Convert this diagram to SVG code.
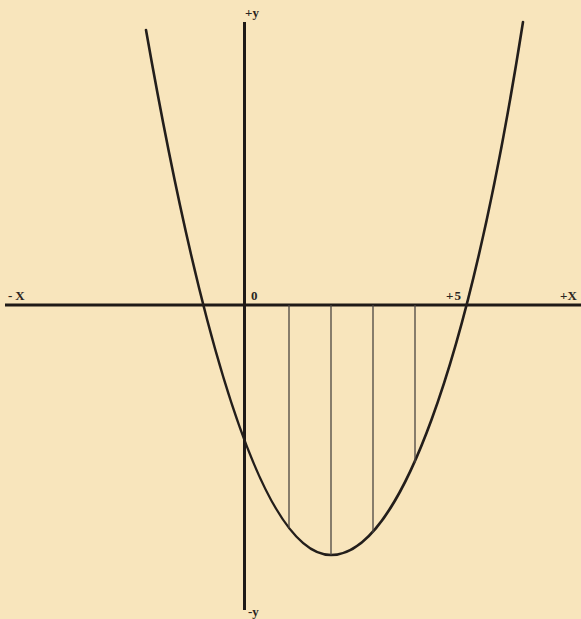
<svg xmlns="http://www.w3.org/2000/svg" width="581" height="619" viewBox="0 0 581 619">
  <style>
    .axis { stroke: #1f1a17; stroke-width: 3; fill: none; stroke-linecap: butt; }
    .curve { stroke: #231e1b; stroke-width: 2.6; fill: none; stroke-linecap: round; }
    .ord { stroke: #4a4440; stroke-width: 1.3; fill: none; }
    .lbl { font-family: "Liberation Serif", "DejaVu Serif", serif; font-weight: bold; font-size: 13px; fill: #2a2522; }
  </style>
  <rect x="0" y="0" width="581" height="619" fill="#f8e5bc"/>
  <g id="connectors">
    <line id="x-axis" class="axis" x1="5" y1="305" x2="581" y2="305"/>
    <line id="y-axis" class="axis" x1="244.5" y1="22" x2="244.5" y2="610"/>
    <path id="parabola" class="curve" d="M146,30 Q238.5,555 331,555 C398,555 468,372 523,22"/>
    <line class="ord" x1="289" y1="305" x2="289" y2="528"/>
    <line class="ord" x1="331" y1="305" x2="331" y2="555"/>
    <line class="ord" x1="373" y1="305" x2="373" y2="533"/>
    <line class="ord" x1="415" y1="305" x2="415" y2="463"/>
  </g>
  <g id="label-minus-x"><text class="lbl" x="8" y="300" letter-spacing="3">-X</text></g>
  <g id="label-plus-y"><text class="lbl" x="245" y="17">+y</text></g>
  <g id="label-zero"><text class="lbl" x="251" y="300" font-size="12">0</text></g>
  <g id="label-plus-5"><text class="lbl" x="446" y="300" letter-spacing="1">+5</text></g>
  <g id="label-plus-x"><text class="lbl" x="560" y="300">+X</text></g>
  <g id="label-minus-y"><text class="lbl" x="248" y="616">-y</text></g>
</svg>
